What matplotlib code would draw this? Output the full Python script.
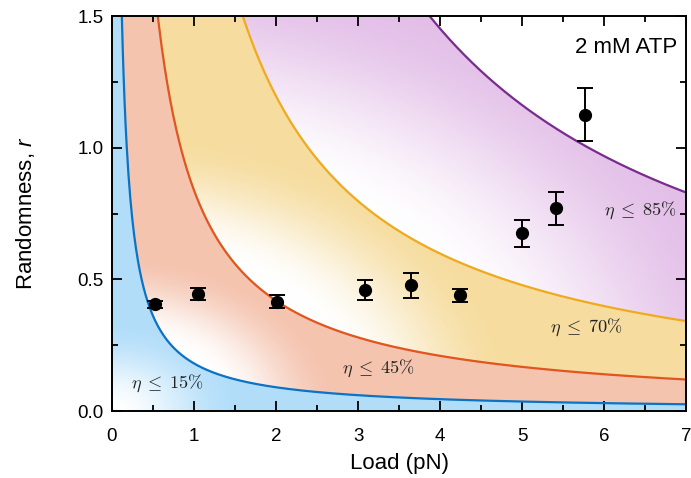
import numpy as np
import matplotlib.pyplot as plt
from matplotlib.ticker import MultipleLocator

plt.rcParams['font.family'] = ['Liberation Sans', 'DejaVu Sans']
plt.rcParams['mathtext.fontset'] = 'custom'
plt.rcParams['mathtext.it'] = 'Liberation Sans:italic'
plt.rcParams['mathtext.rm'] = 'Liberation Sans'

# measured randomness vs load
load = [0.52, 1.05, 2.01, 3.08, 3.65, 4.24, 5.00, 5.41, 5.77]
randomness = [0.405, 0.445, 0.415, 0.460, 0.478, 0.440, 0.675, 0.770, 1.125]
r_err = [0.013, 0.024, 0.025, 0.038, 0.047, 0.025, 0.052, 0.062, 0.101]

# efficiency bounds r = (2kT/d) * eta/(1-eta) / F
eta = [0.15, 0.45, 0.70, 0.85]
eta_labels = [r'$\eta\;\leq\;15\%$', r'$\eta\;\leq\;45\%$', r'$\eta\;\leq\;70\%$', r'$\eta\;\leq\;85\%$']
label_xy = [(0.68, 0.106), (3.25, 0.162), (5.79, 0.318), (6.45, 0.762)]
two_kT_over_d = 1.025  # pN
line_colors = ['#0b72c4', '#e0561e', '#f0aa1e', '#7a2b8e']
fill_colors = [(0.70, 0.87, 0.98), (0.96, 0.77, 0.69), (0.965, 0.865, 0.625), (0.89, 0.75, 0.91)]
# radial fade from origin (unit square): white at d0, full colour at d0 + w
fade = [(0.0, 0.22), (0.19, 0.20), (0.42, 0.28), (0.66, 0.48)]

xmax, ymax = 7.0, 1.5
coef = [two_kT_over_d * e / (1 - e) for e in eta]

fig = plt.figure(figsize=(6.91, 4.78), dpi=100)
ax = fig.add_axes([0.162, 0.140, 0.831, 0.8265])

# shaded bands
nx, ny = 700, 400
gx = np.linspace(0, xmax, nx)
gy = np.linspace(0, ymax, ny)
X, Y = np.meshgrid(gx, gy)
D = np.hypot(X / xmax, Y / ymax)
img = np.ones((ny, nx, 4))
img[..., 3] = 0
lower = np.zeros_like(X)
Xs = np.maximum(X, 1e-6)
for c, col, (d0, w) in zip(coef, fill_colors, fade):
    upper = c / Xs
    mask = (Y >= lower) & (Y < upper)
    t = np.clip((D - d0) / w, 0, 1)
    t = t * t * (3 - 2 * t)
    for k in range(3):
        img[..., k][mask] = 1 - t[mask] * (1 - col[k])
    img[..., 3][mask] = 1
    lower = upper
ax.imshow(img, extent=[0, xmax, 0, ymax], origin='lower', aspect='auto',
          interpolation='bilinear', zorder=0)

fx = np.linspace(0.05, xmax, 600)
for c, lc in zip(coef, line_colors):
    ax.plot(fx, c / fx, color=lc, lw=1.6, zorder=2)

for lab, (tx, ty) in zip(eta_labels, label_xy):
    ax.text(tx, ty, lab, fontsize=13.2, ha='center', va='center', color='#222222',
            math_fontfamily='cm', zorder=3)

ax.errorbar(load, randomness, yerr=r_err, fmt='o', color='black', ms=8.5,
            capsize=6, elinewidth=1.4, capthick=1.4, zorder=4)

ax.text(6.89, 1.382, '2 mM ATP', fontsize=16, ha='right', va='center')

ax.set_xlim(0, xmax)
ax.set_ylim(0, ymax)
ax.xaxis.set_major_locator(MultipleLocator(1))
ax.xaxis.set_minor_locator(MultipleLocator(0.5))
ax.yaxis.set_minor_locator(MultipleLocator(0.25))
ax.set_yticks([0, 0.5, 1.0, 1.5], ['0.0', '0.5', '1.0', '1.5'])
ax.tick_params(which='both', direction='in', top=True, right=True, width=1.3, labelsize=13.5)
ax.tick_params(which='major', length=7)
ax.tick_params(which='minor', length=4)
ax.tick_params(axis='x', which='major', pad=12)
ax.tick_params(axis='y', which='major', pad=6)
for s in ax.spines.values():
    s.set_linewidth(1.4)
ax.set_xlabel('Load (pN)', fontsize=16, labelpad=6)
ax.set_ylabel('Randomness, $\\mathit{r}$', fontsize=16, labelpad=29)

fig.savefig('out.png', dpi=100)
